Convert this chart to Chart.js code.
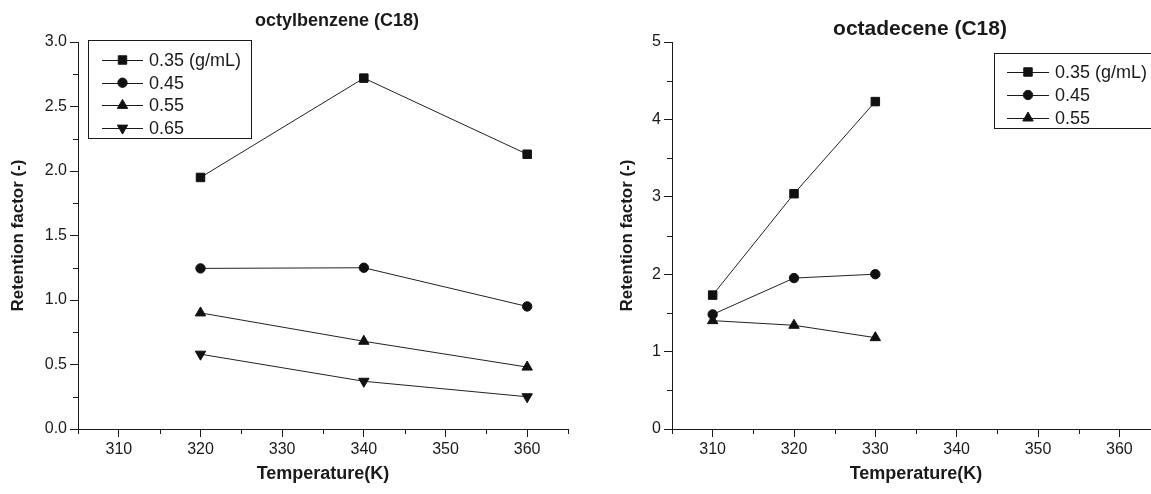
<!DOCTYPE html>
<html>
<head>
<meta charset="utf-8">
<script src="https://cdn.jsdelivr.net/npm/chart.js@4.4.0/dist/chart.umd.min.js"></script>
<style>
  html, body { margin: 0; padding: 0; background: #fff; }
  body { width: 1151px; height: 494px; overflow: hidden; position: relative; }
  .panel { position: absolute; top: 0; width: 600px; height: 494px; }
  #left { left: 0; }
  #right { left: 600px; }
</style>
</head>
<body>
<div class="panel" id="left"><canvas id="chartA" width="600" height="494"></canvas></div>
<div class="panel" id="right"><canvas id="chartB" width="600" height="494"></canvas></div>
<script>
// octylbenzene (C18)
const tempsA = [320, 340, 360];
const obz035 = [1.95, 2.72, 2.13];
const obz045 = [1.245, 1.25, 0.95];
const obz055 = [0.90, 0.68, 0.48];
const obz065 = [0.58, 0.37, 0.25];

// octadecene (C18)
const tempsB = [310, 320, 330];
const ode035 = [1.73, 3.04, 4.23];
const ode045 = [1.48, 1.95, 2.00];
const ode055 = [1.40, 1.34, 1.18];

const seriesLabels = ["0.35 (g/mL)", "0.45", "0.55", "0.65"];

// axis ticks
const xTicks = [310, 320, 330, 340, 350, 360];
const xMinor = [305, 315, 325, 335, 345, 355, 365];
const yTicksA = [0, 0.5, 1, 1.5, 2, 2.5, 3];
const yMinorA = [0.25, 0.75, 1.25, 1.75, 2.25, 2.75];
const yTicksB = [0, 1, 2, 3, 4, 5];
const yMinorB = [0.5, 1.5, 2.5, 3.5, 4.5];

const FONT = "'Liberation Sans', Arial, sans-serif";
const INK = "#1a1a1a";

const markers = [
  { style: "rect", rot: 0, r: 6 },
  { style: "circle", rot: 0, r: 4.7 },
  { style: "triangle", rot: 0, r: 6 },
  { style: "triangle", rot: 180, r: 6 }
];

function makeSet(i, xs, ys) {
  return {
    label: seriesLabels[i],
    data: xs.map((x, k) => ({ x: x, y: ys[k] })),
    borderColor: "#222",
    borderWidth: 1,
    backgroundColor: "#111",
    pointStyle: markers[i].style,
    pointRotation: markers[i].rot,
    pointRadius: markers[i].r,
    pointBorderColor: "#111",
    pointBorderWidth: 1,
    tension: 0
  };
}

// draws minor tick marks on both axes
const minorTicks = {
  id: "minorTicks",
  afterDraw(chart, args, opts) {
    const ctx = chart.ctx;
    const area = chart.chartArea;
    ctx.save();
    ctx.strokeStyle = INK;
    ctx.lineWidth = 1;
    ctx.beginPath();
    opts.x.forEach(v => {
      const px = Math.round(chart.scales.x.getPixelForValue(v)) + 0.5;
      ctx.moveTo(px, Math.round(area.bottom));
      ctx.lineTo(px, Math.round(area.bottom) + 5);
    });
    opts.y.forEach(v => {
      const py = Math.round(chart.scales.y.getPixelForValue(v)) + 0.5;
      ctx.moveTo(Math.round(area.left), py);
      ctx.lineTo(Math.round(area.left) - 5, py);
    });
    ctx.stroke();
    ctx.restore();
  }
};

// title drawn over the plot
const panelTitle = {
  id: "panelTitle",
  afterDraw(chart, args, opts) {
    const ctx = chart.ctx;
    const area = chart.chartArea;
    ctx.save();
    ctx.fillStyle = INK;
    ctx.font = "bold " + opts.size + "px " + FONT;
    ctx.textAlign = "center";
    ctx.textBaseline = "alphabetic";
    ctx.fillText(opts.text, (area.left + area.right) / 2 + opts.dx, opts.baseline);
    ctx.restore();
  }
};

// boxed legend with line + marker samples
const boxLegend = {
  id: "boxLegend",
  afterDraw(chart, args, opts) {
    const ctx = chart.ctx;
    const area = chart.chartArea;
    const x0 = area.left + opts.dx;
    const y0 = area.top + opts.dy;
    const sets = chart.data.datasets;
    ctx.save();
    ctx.fillStyle = "#fff";
    ctx.fillRect(x0, y0, opts.w, opts.h);
    ctx.strokeStyle = INK;
    ctx.lineWidth = 1;
    ctx.strokeRect(Math.round(x0) + 0.5, Math.round(y0) + 0.5, opts.w, opts.h);
    sets.forEach((ds, i) => {
      const cy = y0 + opts.first + i * opts.step;
      const lx = x0 + opts.pad;
      ctx.beginPath();
      ctx.strokeStyle = INK;
      ctx.moveTo(lx, Math.round(cy) + 0.5);
      ctx.lineTo(lx + opts.line, Math.round(cy) + 0.5);
      ctx.stroke();
      ctx.fillStyle = "#111";
      Chart.helpers.drawPoint(ctx, {
        pointStyle: ds.pointStyle,
        rotation: ds.pointRotation,
        radius: ds.pointRadius,
        borderWidth: 1
      }, lx + opts.line / 2, cy);
      ctx.fillStyle = INK;
      ctx.font = opts.size + "px " + FONT;
      ctx.textAlign = "left";
      ctx.textBaseline = "middle";
      ctx.fillText(ds.label, lx + opts.line + 6, cy + 1);
    });
    ctx.restore();
  }
};

function makeOptions(cfg) {
  return {
    responsive: false,
    animation: false,
    layout: { padding: { top: 42, right: cfg.padRight, left: 0, bottom: 0 } },
    plugins: {
      legend: { display: false },
      title: { display: false },
      tooltip: { enabled: false },
      minorTicks: { x: xMinor, y: cfg.yMinor },
      panelTitle: cfg.title,
      boxLegend: cfg.legend
    },
    scales: {
      x: {
        type: "linear",
        min: 305,
        max: 365,
        afterBuildTicks: s => { s.ticks = xTicks.map(v => ({ value: v })); },
        afterFit: s => { s.height = 65; },
        border: { display: true, color: INK, width: 1 },
        grid: { drawOnChartArea: false, drawTicks: true, tickLength: 8, tickColor: INK, tickWidth: 1 },
        ticks: { color: INK, font: { family: FONT, size: 16 }, padding: 3, maxRotation: 0, autoSkip: false },
        title: {
          display: true, text: "Temperature(K)", color: INK,
          font: { family: FONT, size: 18, weight: "bold" },
          padding: { top: 0, bottom: 9 }
        }
      },
      y: {
        type: "linear",
        min: cfg.yMin,
        max: cfg.yMax,
        afterBuildTicks: s => { s.ticks = cfg.yTicks.map(v => ({ value: v })); },
        afterFit: s => { s.width = cfg.yWidth; },
        border: { display: true, color: INK, width: 1 },
        grid: { drawOnChartArea: false, drawTicks: true, tickLength: 8, tickColor: INK, tickWidth: 1 },
        ticks: { color: INK, font: { family: FONT, size: 16 }, padding: 3, callback: cfg.fmt },
        title: {
          display: true, text: "Retention factor (-)", color: INK,
          font: { family: FONT, size: 17, weight: "bold" },
          padding: { top: cfg.yTitlePad, bottom: 0 }
        }
      }
    }
  };
}

new Chart(document.getElementById("chartA"), {
  type: "line",
  data: {
    datasets: [
      makeSet(0, tempsA, obz035),
      makeSet(1, tempsA, obz045),
      makeSet(2, tempsA, obz055),
      makeSet(3, tempsA, obz065)
    ]
  },
  options: makeOptions({
    padRight: 32, yWidth: 78, yTitlePad: 8,
    yMin: 0, yMax: 3, yTicks: yTicksA, yMinor: yMinorA,
    fmt: v => v.toFixed(1),
    title: { text: "octylbenzene (C18)", size: 18, dx: 14, baseline: 26 },
    legend: { dx: 10, dy: -2, w: 163, h: 98, pad: 14, line: 41, first: 20, step: 22.7, size: 18 }
  }),
  plugins: [minorTicks, panelTitle, boxLegend]
});

new Chart(document.getElementById("chartB"), {
  type: "line",
  data: {
    datasets: [
      makeSet(0, tempsB, ode035),
      makeSet(1, tempsB, ode045),
      makeSet(2, tempsB, ode055)
    ]
  },
  options: makeOptions({
    padRight: 40, yWidth: 72, yTitlePad: 17,
    yMin: 0, yMax: 5, yTicks: yTicksB, yMinor: yMinorB,
    fmt: v => String(v),
    title: { text: "octadecene (C18)", size: 21, dx: 4, baseline: 35 },
    legend: { dx: 322, dy: 11, w: 175, h: 75, pad: 13, line: 42, first: 19, step: 23, size: 18 }
  }),
  plugins: [minorTicks, panelTitle, boxLegend]
});
</script>
</body>
</html>
